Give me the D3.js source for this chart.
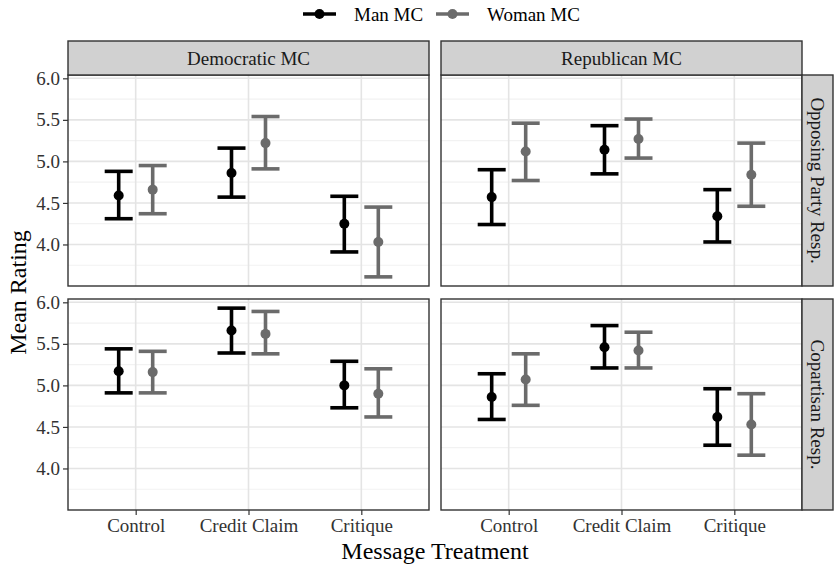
<!DOCTYPE html>
<html>
<head>
<meta charset="utf-8">
<script src="https://cdn.jsdelivr.net/npm/d3@7"></script>
<style>
  body { margin: 0; background: #fff; }
</style>
</head>
<body>
<div id="chart"></div>
<script>
// categories / facets
const treatments = ["Control", "Credit Claim", "Critique"];
const parties = ["Democratic MC", "Republican MC"];
const responses = ["Opposing Party Resp.", "Copartisan Resp."];
const groups = ["Man MC", "Woman MC"];
const yTicks = [4.0, 4.5, 5.0, 5.5, 6.0];

// [mean, lower, upper] per treatment
const demOppMan   = [[4.59, 4.31, 4.88], [4.86, 4.57, 5.16], [4.25, 3.91, 4.58]];
const demOppWoman = [[4.66, 4.37, 4.95], [5.22, 4.91, 5.54], [4.03, 3.61, 4.45]];
const repOppMan   = [[4.57, 4.24, 4.90], [5.14, 4.85, 5.43], [4.34, 4.03, 4.66]];
const repOppWoman = [[5.12, 4.77, 5.46], [5.27, 5.04, 5.51], [4.84, 4.46, 5.22]];
const demCopMan   = [[5.17, 4.91, 5.44], [5.66, 5.39, 5.93], [5.00, 4.73, 5.29]];
const demCopWoman = [[5.16, 4.91, 5.41], [5.62, 5.38, 5.89], [4.90, 4.62, 5.20]];
const repCopMan   = [[4.86, 4.59, 5.14], [5.46, 5.21, 5.72], [4.62, 4.28, 4.96]];
const repCopWoman = [[5.07, 4.76, 5.38], [5.42, 5.21, 5.64], [4.53, 4.16, 4.90]];

const colors = { "Man MC": "#000000", "Woman MC": "#6b6b6b" };

const panelValues = {
  "Opposing Party Resp.|Democratic MC": [demOppMan, demOppWoman],
  "Opposing Party Resp.|Republican MC": [repOppMan, repOppWoman],
  "Copartisan Resp.|Democratic MC": [demCopMan, demCopWoman],
  "Copartisan Resp.|Republican MC": [repCopMan, repCopWoman]
};

const FONT = "'Liberation Serif', 'Times New Roman', serif";
const W = 834, H = 564;
const svg = d3.select("#chart").append("svg").attr("width", W).attr("height", H)
  .style("font-family", FONT);

// layout
const left = 68, panelW = 361, gapX = 12;
const stripH = 34, stripTop = 41;
const panelTop = [75, 299], panelH = 211;
const rightStripW = 31;

const x0 = d3.scalePoint().domain(treatments).padding(0.6);
const dodge = d3.scalePoint().domain(groups).range([-17, 17]);
const y = d3.scaleLinear().domain([3.5, 6.04]);
const capW = 14;

const minorTicks = [3.75, 4.25, 4.75, 5.25, 5.75];

function serif(sel, size) {
  return sel.style("font-family", FONT).style("font-size", size + "px");
}

responses.forEach((resp, ri) => {
  parties.forEach((party, pi) => {
    const px = left + pi * (panelW + gapX);
    const py = panelTop[ri];
    const xs = x0.copy().range([px, px + panelW]);
    const ys = y.copy().range([py + panelH, py]);

    const g = svg.append("g");
    // background + grid
    g.append("rect").attr("x", px).attr("y", py).attr("width", panelW).attr("height", panelH).attr("fill", "#fff");
    g.selectAll(".minor").data(minorTicks).join("line")
      .attr("x1", px).attr("x2", px + panelW)
      .attr("y1", d => ys(d)).attr("y2", d => ys(d))
      .attr("stroke", "#f2f2f2").attr("stroke-width", 1.2);
    g.selectAll(".major").data(yTicks).join("line")
      .attr("x1", px).attr("x2", px + panelW)
      .attr("y1", d => ys(d)).attr("y2", d => ys(d))
      .attr("stroke", "#e4e4e4").attr("stroke-width", 1.6);
    g.selectAll(".vmajor").data(treatments).join("line")
      .attr("x1", d => xs(d)).attr("x2", d => xs(d))
      .attr("y1", py).attr("y2", py + panelH)
      .attr("stroke", "#e4e4e4").attr("stroke-width", 1.6);

    // error bars + points
    const vals = panelValues[resp + "|" + party];
    groups.forEach((grp, gi) => {
      const col = colors[grp];
      const rows = vals[gi].map((v, i) => ({ t: treatments[i], m: v[0], lo: v[1], hi: v[2] }));
      const cx = d => xs(d.t) + dodge(grp);
      const eg = g.append("g").attr("stroke", col).attr("stroke-width", 3.6).attr("fill", "none");
      eg.selectAll(".v").data(rows).join("line")
        .attr("x1", cx).attr("x2", cx).attr("y1", d => ys(d.lo)).attr("y2", d => ys(d.hi));
      eg.selectAll(".t").data(rows).join("line")
        .attr("x1", d => cx(d) - capW).attr("x2", d => cx(d) + capW)
        .attr("y1", d => ys(d.hi)).attr("y2", d => ys(d.hi));
      eg.selectAll(".b").data(rows).join("line")
        .attr("x1", d => cx(d) - capW).attr("x2", d => cx(d) + capW)
        .attr("y1", d => ys(d.lo)).attr("y2", d => ys(d.lo));
      g.selectAll(".pt" + gi).data(rows).join("circle")
        .attr("cx", cx).attr("cy", d => ys(d.m)).attr("r", 5).attr("fill", col);
    });

    // border
    g.append("rect").attr("x", px).attr("y", py).attr("width", panelW).attr("height", panelH)
      .attr("fill", "none").attr("stroke", "#333").attr("stroke-width", 1.4);

    // y axis on left column
    if (pi === 0) {
      const ax = g.append("g").attr("transform", `translate(${px},0)`)
        .call(d3.axisLeft(ys).tickValues(yTicks).tickFormat(d3.format(".1f")).tickSize(5).tickPadding(3));
      ax.attr("font-family", null).attr("font-size", null);
      ax.select(".domain").remove();
      ax.selectAll("line").attr("stroke", "#333").attr("stroke-width", 1.2);
      serif(ax.selectAll("text"), 19).attr("fill", "#333");
    }
    // x axis on bottom row
    if (ri === 1) {
      const ax = g.append("g").attr("transform", `translate(0,${py + panelH})`)
        .call(d3.axisBottom(xs).tickSize(5).tickPadding(4));
      ax.attr("font-family", null).attr("font-size", null);
      ax.select(".domain").remove();
      ax.selectAll("line").attr("stroke", "#333").attr("stroke-width", 1.2);
      serif(ax.selectAll("text"), 19).attr("fill", "#333");
    }

    // top strip
    if (ri === 0) {
      g.append("rect").attr("x", px).attr("y", stripTop).attr("width", panelW).attr("height", stripH)
        .attr("fill", "#d1d1d1").attr("stroke", "#333").attr("stroke-width", 1.4);
      serif(g.append("text"), 19).attr("x", px + panelW / 2).attr("y", stripTop + stripH / 2)
        .attr("text-anchor", "middle").attr("dominant-baseline", "central")
        .attr("fill", "#1a1a1a").text(party);
    }
    // right strip
    if (pi === 1) {
      const sx = px + panelW;
      g.append("rect").attr("x", sx).attr("y", py).attr("width", rightStripW).attr("height", panelH)
        .attr("fill", "#d1d1d1").attr("stroke", "#333").attr("stroke-width", 1.4);
      serif(g.append("text"), 19)
        .attr("transform", `translate(${sx + rightStripW / 2},${py + panelH / 2}) rotate(90)`)
        .attr("text-anchor", "middle").attr("dominant-baseline", "central")
        .attr("fill", "#1a1a1a").text(resp);
    }
  });
});

// axis titles
const plotMid = left + (2 * panelW + gapX) / 2;
serif(svg.append("text"), 24).attr("x", plotMid).attr("y", 551)
  .attr("text-anchor", "middle").attr("dominant-baseline", "central")
  .attr("fill", "#000").text("Message Treatment");
serif(svg.append("text"), 24)
  .attr("transform", `translate(18,${(panelTop[0] + panelTop[1] + panelH) / 2}) rotate(-90)`)
  .attr("text-anchor", "middle").attr("dominant-baseline", "central")
  .attr("fill", "#000").text("Mean Rating");

// legend
const legend = svg.append("g").attr("transform", "translate(0,14)");
const legendX = [303, 436];
groups.forEach((grp, i) => {
  const lx = legendX[i];
  legend.append("line").attr("x1", lx).attr("x2", lx + 33).attr("y1", 0).attr("y2", 0)
    .attr("stroke", colors[grp]).attr("stroke-width", 3.6);
  legend.append("circle").attr("cx", lx + 16.5).attr("cy", 0).attr("r", 5).attr("fill", colors[grp]);
  serif(legend.append("text"), 19).attr("x", lx + 51).attr("y", 0).attr("dominant-baseline", "central")
    .attr("fill", "#000").text(grp);
});
</script>
</body>
</html>
